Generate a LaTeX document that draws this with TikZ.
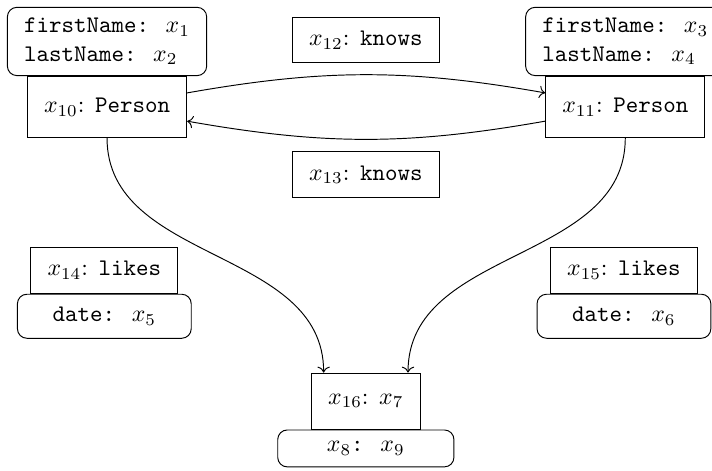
\documentclass[tikz,border=0pt]{standalone}
\usetikzlibrary{positioning,arrows.meta}
\begin{document}
\begin{tikzpicture}[>={Computer Modern Rightarrow},
  every node/.style = {shape=rectangle, draw, align=center, inner xsep=7pt},
  obj/.style = {minimum height=25.6pt},
  rel/.style = {minimum height=19.3pt},
  attr/.style = {rounded corners, align=left, inner ysep=4.5pt},
  prop/.style = {rounded corners, minimum width=73pt, minimum height=18.5pt}]
  \useasboundingbox (0,0) rectangle (10.51,-6.94);
  % objects
  \node[obj] (p10) at (1.58,-1.58) {$x_{10}$: \texttt{Person}};
  \node[obj] (p11) at (9.23,-1.58) {$x_{11}$: \texttt{Person}};
  \node[attr, above=0pt of p10] (a10) {\texttt{firstName: }$x_1$\\\texttt{lastName: }$x_2$};
  \node[attr, above=0pt of p11] (a11) {\texttt{firstName: }$x_3$\\\texttt{lastName: }$x_4$};
  % relations
  \node[rel] (k12) at (5.40,-0.59) {$x_{12}$: \texttt{knows}};
  \node[rel] (k13) at (5.40,-2.58) {$x_{13}$: \texttt{knows}};
  \node[rel] (l14) at (1.54,-3.99) {$x_{14}$: \texttt{likes}};
  \node[rel] (l15) at (9.21,-3.99) {$x_{15}$: \texttt{likes}};
  \node[prop, below=0pt of l14] (d14) {\texttt{date: }$x_5$};
  \node[prop, below=0pt of l15] (d15) {\texttt{date: }$x_6$};
  \node[minimum height=23.5pt] (e16) at (5.40,-5.92) {$x_{16}$: $x_7$};
  \node[rounded corners, minimum width=74pt, minimum height=15.5pt,
    below=0pt of e16] (e16v) {$x_8$\texttt{: }$x_9$};
  % edges
  \draw[->] (p10.10) to[bend left=10] (p11.170);
  \draw[->] (p11.-170) to[bend left=10] (p10.-10);
  \draw[->] (p10.south) to[out=-90, in=90] (e16.146);
  \draw[->] (p11.south) to[out=-90, in=90] (e16.34);
\end{tikzpicture}
\end{document}
